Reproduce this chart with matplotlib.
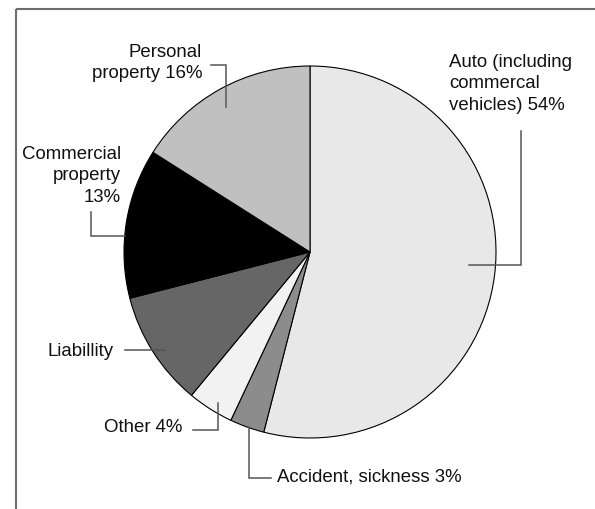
import matplotlib
matplotlib.use("Agg")
import matplotlib.pyplot as plt

# --------------------------------------------------------------------------- #
# Data
# --------------------------------------------------------------------------- #
categories = [
    "Auto (including\ncommercal\nvehicles) 54%",
    "Accident, sickness 3%",
    "Other 4%",
    "Liabillity",
    "Commercial\nproperty\n13%",
    "Personal\nproperty 16%",
]
shares = [54, 3, 4, 10, 13, 16]
colors = ["#e8e8e8", "#8c8c8c", "#f2f2f2", "#666666", "#000000", "#c0c0c0"]

# Label layout in pixel coordinates (x, y from top-left), alignment,
# and leader-line polyline per slice.
W, H = 595, 510
label_pos = [(449, 84, "left"), (277, 477, "left"), (182, 428, "right"),
             (114, 351, "right"), (121, 176, "right"), (202, 63, "right")]
leaders = [
    [(469, 266), (521, 266), (521, 132)],
    [(249, 428), (249, 479), (271, 479)],
    [(218, 404), (218, 431), (193, 431)],
    [(165, 351), (125, 351)],
    [(125, 237), (91, 237), (91, 213)],
    [(226, 108), (226, 66), (211, 66)],
]

fig = plt.figure(figsize=(W / 100, H / 100), dpi=100, facecolor="white")
ax = fig.add_axes([0, 0, 1, 1])

ax.pie(
    shares, colors=colors, startangle=90, counterclock=False,
    center=(310, H - 253), radius=186, frame=True,
    wedgeprops=dict(edgecolor="black", linewidth=0.8),
)
ax.set_xlim(0, W)
ax.set_ylim(0, H)
ax.set_aspect("equal")
ax.axis("off")

for pts in leaders:
    xs = [p[0] for p in pts]
    ys = [H - p[1] for p in pts]
    ax.plot(xs, ys, color="#555555", linewidth=1.1, solid_joinstyle="miter")

for text, (x, y, ha) in zip(categories, label_pos):
    ax.text(x, H - y, text, ha=ha, va="center", multialignment=ha,
            fontsize=13.4, family="Liberation Sans", color="#111111",
            linespacing=1.38)

# partial frame: top and left edges
ax.plot([15.5, W], [H - 9.5, H - 9.5], color="#6e6e6e", linewidth=1.5,
        solid_capstyle="butt")
ax.plot([15.5, 15.5], [H - 9.5, 0], color="#6e6e6e", linewidth=1.5,
        solid_capstyle="butt")

fig.savefig("out.png", dpi=100)
